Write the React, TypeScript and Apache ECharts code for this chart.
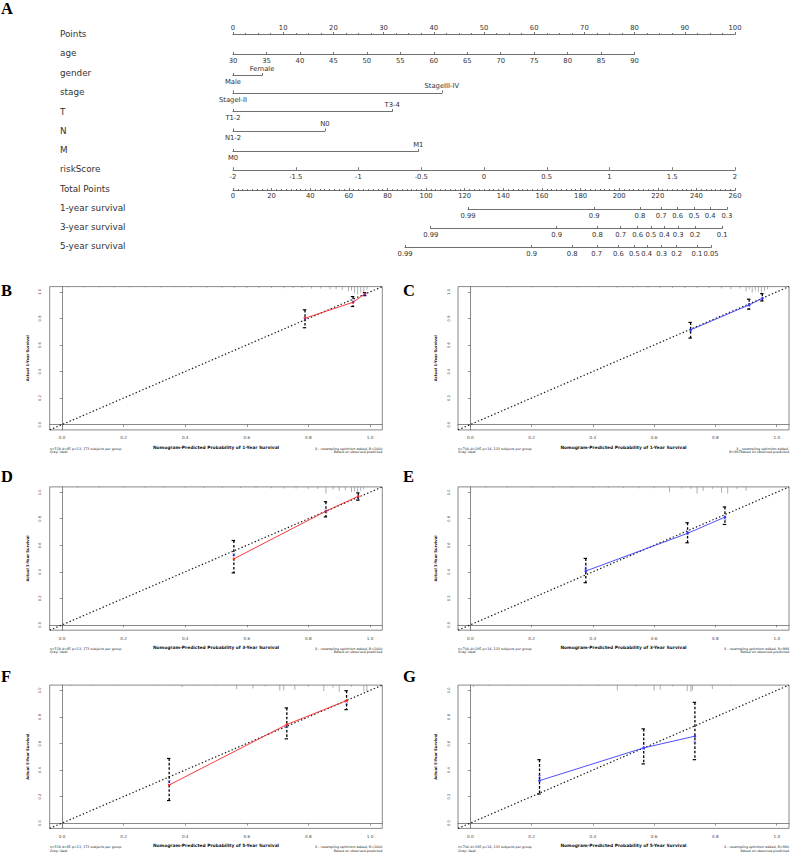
import React, { useEffect, useRef } from "react";
import * as echarts from "echarts";

const FONT = "DejaVu Sans";
const SERIF = "Liberation Serif";
const NOMO_LINE = "#4d4d4d";
const NOMO_TEXT = "#333333";

// ---------------- Panel A: nomogram ----------------
const rowNames = [
  "Points", "age", "gender", "stage", "T", "N", "M", "riskScore",
  "Total Points", "1-year survival", "3-year survival", "5-year survival",
];
const pointsRange = [0, 100];
const pointsInterval = 10;
const ageRange = [30, 90];
const ageInterval = 5;
const agePoints = [0, 80];
const genderLevels = ["Male", "Female"];
const genderPoints = [0, 5.8];
const stageLevels = ["StageI-II", "StageIII-IV"];
const stagePoints = [0, 41.6];
const tLevels = ["T1-2", "T3-4"];
const tPoints = [0, 31.7];
const nLevels = ["N1-2", "N0"];
const nPoints = [0, 18.3];
const mLevels = ["M0", "M1"];
const mPoints = [0, 36.9];
const riskRange = [-2, 2];
const riskInterval = 0.5;
const riskPoints = [0, 100];
const totalRange = [0, 260];
const totalInterval = 20;
const surv1Labels = ["0.99", "0.9", "0.8", "0.7", "0.6", "0.5", "0.4", "0.3"];
const surv1Total = [121.7, 187.1, 210.8, 221.7, 230.3, 238.9, 247.1, 255.8];
const surv3Labels = ["0.99", "0.9", "0.8", "0.7", "0.6", "0.5", "0.4", "0.3", "0.2", "0.1"];
const surv3Total = [102.4, 167.6, 188.7, 200.8, 209.6, 216.5, 223.4, 230.6, 239.3, 253.4];
const surv5Labels = ["0.99", "0.9", "0.8", "0.7", "0.6", "0.5", "0.4", "0.3", "0.2", "0.1", "0.05"];
const surv5Total = [89.1, 154.7, 175.7, 188.4, 199.6, 207.9, 214.3, 222.0, 229.8, 240.3, 247.6];

// ---------------- Panels B-G: calibration ----------------
const calLimits = [-0.04, 1.04];
const calTicks = [0, 0.2, 0.4, 0.6, 0.8, 1.0];

// B: 1-year, training
const bPredicted = [0.789, 0.945, 0.984];
const bObserved = [0.802, 0.922, 0.985];
const bCorrected = [0.795, 0.928, 0.98];
const bLower = [0.73, 0.89, 0.972];
const bUpper = [0.865, 0.965, 0.995];
const bRugX = [0.02, 0.07, 0.12, 0.17, 0.22, 0.27, 0.32, 0.37, 0.42, 0.47, 0.52, 0.56, 0.6, 0.64, 0.68, 0.72, 0.75, 0.78, 0.81, 0.84, 0.87, 0.89, 0.91, 0.93, 0.94, 0.95, 0.96, 0.97, 0.98, 0.99];
const bRugH = [0.006, 0.006, 0.006, 0.006, 0.006, 0.006, 0.006, 0.006, 0.006, 0.008, 0.008, 0.008, 0.01, 0.01, 0.01, 0.012, 0.012, 0.012, 0.015, 0.015, 0.02, 0.02, 0.025, 0.035, 0.03, 0.05, 0.06, 0.045, 0.04, 0.025];

// C: 1-year, validation
const cPredicted = [0.719, 0.91, 0.953];
const cObserved = [0.714, 0.902, 0.952];
const cCorrected = [0.71, 0.9, 0.945];
const cLower = [0.652, 0.87, 0.932];
const cUpper = [0.77, 0.945, 0.987];
const cRugX = [0.12, 0.2, 0.28, 0.35, 0.42, 0.48, 0.53, 0.58, 0.62, 0.66, 0.7, 0.74, 0.78, 0.82, 0.85, 0.88, 0.9, 0.91, 0.92, 0.93, 0.94, 0.95, 0.96, 0.97];
const cRugH = [0.006, 0.006, 0.006, 0.006, 0.006, 0.008, 0.008, 0.008, 0.01, 0.01, 0.012, 0.012, 0.012, 0.015, 0.02, 0.015, 0.035, 0.02, 0.045, 0.03, 0.04, 0.045, 0.035, 0.02];

// D: 3-year, training
const dPredicted = [0.558, 0.857, 0.962];
const dObserved = [0.498, 0.857, 0.97];
const dCorrected = [0.53, 0.86, 0.95];
const dLower = [0.392, 0.814, 0.94];
const dUpper = [0.636, 0.928, 0.995];
const dRugX = [0.05, 0.12, 0.2, 0.27, 0.33, 0.4, 0.46, 0.52, 0.58, 0.63, 0.68, 0.72, 0.76, 0.8, 0.83, 0.857, 0.88, 0.9, 0.92, 0.94, 0.95, 0.96, 0.97, 0.98];
const dRugH = [0.006, 0.006, 0.006, 0.006, 0.006, 0.006, 0.008, 0.008, 0.008, 0.01, 0.01, 0.012, 0.012, 0.015, 0.015, 0.05, 0.02, 0.03, 0.025, 0.04, 0.035, 0.045, 0.03, 0.02];

// E: 3-year, validation
const ePredicted = [0.377, 0.709, 0.831];
const eObserved = [0.406, 0.69, 0.812];
const eCorrected = [0.43, 0.7, 0.8];
const eLower = [0.318, 0.619, 0.757];
const eUpper = [0.501, 0.77, 0.889];
const eRugX = [0.05, 0.12, 0.2, 0.27, 0.33, 0.4, 0.45, 0.5, 0.55, 0.6, 0.65, 0.69, 0.72, 0.74, 0.76, 0.79, 0.82, 0.84, 0.87, 0.9];
const eRugH = [0.006, 0.006, 0.006, 0.006, 0.006, 0.008, 0.008, 0.008, 0.01, 0.01, 0.04, 0.012, 0.015, 0.05, 0.03, 0.015, 0.045, 0.05, 0.015, 0.03];

// F: 5-year, training
const fPredicted = [0.348, 0.73, 0.924];
const fObserved = [0.287, 0.743, 0.923];
const fCorrected = [0.31, 0.73, 0.9];
const fLower = [0.17, 0.635, 0.855];
const fUpper = [0.487, 0.868, 0.998];
const fRugX = [0.03, 0.1, 0.17, 0.24, 0.3, 0.35, 0.39, 0.44, 0.5, 0.567, 0.62, 0.66, 0.707, 0.72, 0.756, 0.8, 0.85, 0.88, 0.9, 0.94, 0.98, 0.99];
const fRugH = [0.006, 0.006, 0.006, 0.006, 0.006, 0.006, 0.015, 0.006, 0.008, 0.03, 0.025, 0.01, 0.04, 0.04, 0.035, 0.012, 0.045, 0.02, 0.05, 0.012, 0.045, 0.05];

// G: 5-year, validation
const gPredicted = [0.226, 0.566, 0.733];
const gObserved = [0.32, 0.567, 0.655];
const gCorrected = [0.35, 0.56, 0.61];
const gLower = [0.219, 0.446, 0.478];
const gUpper = [0.478, 0.71, 0.91];
const gRugX = [0.01, 0.06, 0.12, 0.18, 0.24, 0.3, 0.36, 0.42, 0.48, 0.54, 0.6, 0.62, 0.66, 0.708, 0.72, 0.725, 0.79, 0.85];
const gRugH = [0.015, 0.006, 0.006, 0.006, 0.006, 0.006, 0.006, 0.006, 0.04, 0.01, 0.04, 0.035, 0.01, 0.045, 0.05, 0.04, 0.03, 0.008];

const trainLeftNote = ["n=519 d=85 p=13, 173 subjects per group", "Gray: ideal"];
const testLeftNote = ["n=700 d=195 p=14, 233 subjects per group", "Gray: ideal"];

const RED = "#ff2424";
const BLUE = "#3b3bff";

const panels = [
  { letter: "B", col: 0, row: 0, years: 1, color: RED, pred: bPredicted, obs: bObserved, corr: bCorrected, lo: bLower, hi: bUpper, rugX: bRugX, rugH: bRugH, left: trainLeftNote, right: ["X - resampling optimism added, B=1000", "Based on observed-predicted"] },
  { letter: "C", col: 1, row: 0, years: 1, color: BLUE, pred: cPredicted, obs: cObserved, corr: cCorrected, lo: cLower, hi: cUpper, rugX: cRugX, rugH: cRugH, left: testLeftNote, right: ["X - resampling optimism added,", "B=997Based on observed-predicted"] },
  { letter: "D", col: 0, row: 1, years: 3, color: RED, pred: dPredicted, obs: dObserved, corr: dCorrected, lo: dLower, hi: dUpper, rugX: dRugX, rugH: dRugH, left: trainLeftNote, right: ["X - resampling optimism added, B=1000", "Based on observed-predicted"] },
  { letter: "E", col: 1, row: 1, years: 3, color: BLUE, pred: ePredicted, obs: eObserved, corr: eCorrected, lo: eLower, hi: eUpper, rugX: eRugX, rugH: eRugH, left: testLeftNote, right: ["X - resampling optimism added, B=998", "Based on observed-predicted"] },
  { letter: "F", col: 0, row: 2, years: 5, color: RED, pred: fPredicted, obs: fObserved, corr: fCorrected, lo: fLower, hi: fUpper, rugX: fRugX, rugH: fRugH, left: trainLeftNote, right: ["X - resampling optimism added, B=1000", "Based on observed-predicted"] },
  { letter: "G", col: 1, row: 2, years: 5, color: BLUE, pred: gPredicted, obs: gObserved, corr: gCorrected, lo: gLower, hi: gUpper, rugX: gRugX, rugH: gRugH, left: testLeftNote, right: ["X - resampling optimism added, B=996", "Based on observed-predicted"] },
];

// ---------------- Layout ----------------
const NOMO_X0 = 233;
const NOMO_W = 502;
const ROW_LINE_Y = [34, 54, 75, 92.3, 111, 130.5, 151, 169.3, 190, 209, 228, 247];
const ROW_NAME_Y = [34, 53, 72.7, 92, 111.7, 131, 150, 169.3, 188.7, 207.7, 226.7, 246];
const NAME_X = 60;
const COLS = [
  { left: 49.7, width: 332.6, letterX: 1 },
  { left: 458, width: 331, letterX: 403 },
];
const ROWS = [
  { top: 286.6, letterY: 290 },
  { top: 486.9, letterY: 476.5 },
  { top: 685.1, letterY: 676.5 },
];
const PANEL_H = 143.3;

const X_SYMBOL = "path://M0,1 L1,0 L5,4 L9,0 L10,1 L6,5 L10,9 L9,10 L5,6 L1,10 L0,9 L4,5 Z";

function ptsToPx(p: number) {
  return NOMO_X0 + (p / pointsRange[1]) * NOMO_W;
}
function totalToPts(t: number) {
  return (t / totalRange[1]) * pointsRange[1];
}
function nearestIndex(arr: number[], v: number) {
  let best = 0;
  for (let i = 1; i < arr.length; i++) {
    if (Math.abs(arr[i] - v) < Math.abs(arr[best] - v)) best = i;
  }
  return best;
}
function fmtNum(v: number) {
  return String(Math.round(v * 100) / 100);
}

function buildOption() {
  const grid: any[] = [];
  const xAxis: any[] = [];
  const yAxis: any[] = [];
  const series: any[] = [];
  const graphic: any[] = [];

  const lineStyle = { color: NOMO_LINE, width: 0.8 };
  const labelBelow = { fontSize: 6.8, color: NOMO_TEXT, fontFamily: FONT, margin: 3.2 };
  const labelAbove = { fontSize: 6.8, color: NOMO_TEXT, fontFamily: FONT, margin: 2.4 };

  const addRowGrid = (row: number, p0: number, p1: number) => {
    const y = ROW_LINE_Y[row];
    const gi = grid.length;
    grid.push({
      left: ptsToPx(p0), width: ptsToPx(p1) - ptsToPx(p0), top: y - 0.5, height: 1,
      containLabel: false, outerBoundsMode: "none",
    });
    yAxis.push({ gridIndex: gi, type: "value", show: false, min: 0, max: 1 });
    return gi;
  };

  rowNames.forEach((name, i) => {
    graphic.push({
      type: "text", x: NAME_X, y: ROW_NAME_Y[i],
      style: { text: name, fontSize: 8.8, fontFamily: FONT, fill: NOMO_TEXT, align: "left", verticalAlign: "middle" },
    });
  });

  // Points
  let gi = addRowGrid(0, pointsRange[0], pointsRange[1]);
  xAxis.push({
    gridIndex: gi, type: "value", position: "top", min: pointsRange[0], max: pointsRange[1], interval: pointsInterval,
    axisLine: { show: true, lineStyle },
    axisTick: { show: true, inside: false, length: 2.5, lineStyle },
    minorTick: { show: true, splitNumber: 4, length: 1.5, lineStyle },
    axisLabel: { ...labelAbove },
    splitLine: { show: false }, minorSplitLine: { show: false },
  });

  // age
  gi = addRowGrid(1, agePoints[0], agePoints[1]);
  xAxis.push({
    gridIndex: gi, type: "value", position: "bottom", min: ageRange[0], max: ageRange[1], interval: ageInterval,
    axisLine: { show: true, lineStyle },
    axisTick: { show: true, inside: true, length: 2.5, lineStyle },
    axisLabel: { ...labelBelow },
    splitLine: { show: false },
  });

  const addFactor = (row: number, levels: string[], pts: number[]) => {
    const g = addRowGrid(row, pts[0], pts[1]);
    xAxis.push({
      gridIndex: g, type: "value", position: "bottom", min: pts[0], max: pts[1],
      axisLine: { show: true, lineStyle },
      axisTick: { show: true, inside: true, length: 2.5, lineStyle, customValues: pts },
      axisLabel: { ...labelBelow, customValues: [pts[0]], formatter: () => levels[0] },
      splitLine: { show: false },
    });
    xAxis.push({
      gridIndex: g, type: "value", position: "top", min: pts[0], max: pts[1],
      axisLine: { show: false }, axisTick: { show: false },
      axisLabel: { ...labelAbove, customValues: [pts[1]], formatter: () => levels[1] },
      splitLine: { show: false },
    });
  };
  addFactor(2, genderLevels, genderPoints);
  addFactor(3, stageLevels, stagePoints);
  addFactor(4, tLevels, tPoints);
  addFactor(5, nLevels, nPoints);
  addFactor(6, mLevels, mPoints);

  // riskScore
  gi = addRowGrid(7, riskPoints[0], riskPoints[1]);
  xAxis.push({
    gridIndex: gi, type: "value", position: "bottom", min: riskRange[0], max: riskRange[1], interval: riskInterval,
    axisLine: { show: true, lineStyle },
    axisTick: { show: true, inside: true, length: 2.5, lineStyle },
    axisLabel: { ...labelBelow, formatter: (v: number) => fmtNum(v) },
    splitLine: { show: false },
  });

  // Total Points
  gi = addRowGrid(8, 0, totalToPts(totalRange[1]));
  xAxis.push({
    gridIndex: gi, type: "value", position: "bottom", min: totalRange[0], max: totalRange[1], interval: totalInterval,
    axisLine: { show: true, lineStyle },
    axisTick: { show: true, inside: true, length: 2.5, lineStyle },
    minorTick: { show: true, splitNumber: 8, length: 1.5, lineStyle },
    axisLabel: { ...labelBelow, margin: 2.4 },
    splitLine: { show: false }, minorSplitLine: { show: false },
  });

  const addSurv = (row: number, labels: string[], totals: number[]) => {
    const first = totals[0];
    const last = totals[totals.length - 1];
    const g = addRowGrid(row, totalToPts(first), totalToPts(last));
    xAxis.push({
      gridIndex: g, type: "value", position: "bottom", min: first, max: last,
      axisLine: { show: true, lineStyle },
      axisTick: { show: true, inside: true, length: 2.5, lineStyle, customValues: totals },
      axisLabel: { ...labelBelow, margin: 2.8, customValues: totals, formatter: (v: number) => labels[nearestIndex(totals, v)] },
      splitLine: { show: false },
    });
  };
  addSurv(9, surv1Labels, surv1Total);
  addSurv(10, surv3Labels, surv3Total);
  addSurv(11, surv5Labels, surv5Total);

  graphic.push({
    type: "text", x: 1, y: 8.7,
    style: { text: "A", fontSize: 16.5, fontWeight: "bold", fontFamily: SERIF, fill: "#000", align: "left", verticalAlign: "middle" },
  });

  // ---------------- calibration panels ----------------
  const frameColor = "#6b6b6b";
  const tickText = { fontSize: 4.2, color: "#444", fontFamily: FONT };
  panels.forEach((p) => {
    const col = COLS[p.col];
    const row = ROWS[p.row];
    const g = grid.length;
    grid.push({
      left: col.left, top: row.top, width: col.width, height: PANEL_H,
      show: true, borderColor: frameColor, borderWidth: 0.8, backgroundColor: "transparent",
      containLabel: false, outerBoundsMode: "none",
    });
    const xi = xAxis.length;
    const yi = yAxis.length;
    xAxis.push({
      gridIndex: g, type: "value", position: "bottom", min: calLimits[0], max: calLimits[1],
      name: `Nomogram-Predicted Probability of ${p.years}-Year Survival`,
      nameLocation: "middle", nameGap: 15.4,
      nameTextStyle: { fontSize: 4.4, fontWeight: "bold", fontFamily: FONT, color: "#111" },
      axisLine: { show: true, lineStyle: { color: frameColor, width: 0.8 } },
      axisTick: { show: true, length: 2.5, customValues: calTicks, lineStyle: { color: frameColor, width: 0.7 } },
      axisLabel: { ...tickText, customValues: calTicks, margin: 6, formatter: (v: number) => v.toFixed(1) },
      splitLine: { show: false },
    });
    yAxis.push({
      gridIndex: g, type: "value", position: "left", min: calLimits[0], max: calLimits[1],
      name: `Actual ${p.years}-Year Survival`,
      nameLocation: "middle", nameGap: 19.6, nameRotate: 90,
      nameTextStyle: { fontSize: 3.75, fontWeight: "bold", fontFamily: FONT, color: "#111" },
      axisLine: { show: true, lineStyle: { color: frameColor, width: 0.8 } },
      axisTick: { show: true, length: 2.5, customValues: calTicks, lineStyle: { color: frameColor, width: 0.7 } },
      axisLabel: { ...tickText, fontSize: 3.7, rotate: 90, customValues: calTicks, margin: 7.5, formatter: (v: number) => v.toFixed(1) },
      splitLine: { show: false },
    });

    // ideal line
    series.push({
      type: "line", xAxisIndex: xi, yAxisIndex: yi, silent: true, symbol: "none",
      data: [[calLimits[0], calLimits[0]], [calLimits[1], calLimits[1]]],
      lineStyle: { color: "#1a1a1a", width: 1.2, type: [1.4, 2.2] },
      z: 2,
    });
    // error bars
    series.push({
      type: "custom", xAxisIndex: xi, yAxisIndex: yi, silent: true,
      data: p.pred.map((x: number, i: number) => [x, p.lo[i], p.hi[i]]),
      encode: { x: 0, y: 1 },
      renderItem: (params: any, api: any) => {
        const x = api.value(0);
        const a = api.coord([x, api.value(2)]);
        const b = api.coord([x, api.value(1)]);
        const st = { stroke: "#000", lineWidth: 1.2 };
        return {
          type: "group",
          children: [
            { type: "line", shape: { x1: a[0], y1: a[1], x2: b[0], y2: b[1] }, style: { ...st, lineWidth: 1.3, lineDash: [2.6, 1.8] } },
            { type: "line", shape: { x1: a[0] - 2.2, y1: a[1], x2: a[0] + 1.2, y2: a[1] }, style: st },
            { type: "line", shape: { x1: b[0] - 2.2, y1: b[1], x2: b[0] + 1.2, y2: b[1] }, style: st },
          ],
        };
      },
      z: 3,
    });
    // observed line
    series.push({
      type: "line", xAxisIndex: xi, yAxisIndex: yi, silent: true,
      data: p.pred.map((x: number, i: number) => [x, p.obs[i]]),
      symbol: "circle", symbolSize: 2.6, showSymbol: true,
      itemStyle: { color: p.color },
      lineStyle: { color: p.color, width: 0.9 },
      z: 4,
    });
    // bias-corrected (X)
    series.push({
      type: "scatter", xAxisIndex: xi, yAxisIndex: yi, silent: true,
      data: p.pred.map((x: number, i: number) => [x, p.corr[i]]),
      symbol: X_SYMBOL, symbolSize: 3.2,
      itemStyle: { color: BLUE },
      z: 5,
    });
    // rug of predicted values
    series.push({
      type: "custom", xAxisIndex: xi, yAxisIndex: yi, silent: true,
      data: p.rugX.map((x: number, i: number) => [x, p.rugH[i]]),
      encode: { x: 0, y: 1 },
      renderItem: (params: any, api: any) => {
        const x = api.value(0);
        const h = api.value(1);
        const a = api.coord([x, calLimits[1]]);
        const b = api.coord([x, calLimits[1] - h]);
        return { type: "line", shape: { x1: a[0], y1: a[1], x2: b[0], y2: b[1] }, style: { stroke: "#8c8c8c", lineWidth: 0.7 } };
      },
      z: 3,
    });

    const bottom = row.top + PANEL_H;
    const noteStyle = { fontSize: 3.3, fontFamily: FONT, fill: "#222", verticalAlign: "middle" };
    p.left.forEach((t: string, k: number) => {
      graphic.push({ type: "text", x: col.left, y: bottom + 18.8 + k * 3.4, style: { ...noteStyle, text: t, align: "left" } });
    });
    p.right.forEach((t: string, k: number) => {
      graphic.push({ type: "text", x: col.left + col.width, y: bottom + 18.8 + k * 3.4, style: { ...noteStyle, text: t, align: "right" } });
    });
    graphic.push({
      type: "text", x: col.letterX, y: row.letterY,
      style: { text: p.letter, fontSize: 16.5, fontWeight: "bold", fontFamily: SERIF, fill: "#000", align: "left", verticalAlign: "middle" },
    });
  });

  return {
    animation: false,
    backgroundColor: "#ffffff",
    textStyle: { fontFamily: FONT },
    grid, xAxis, yAxis, series, graphic,
  };
}

export default function App() {
  const ref = useRef<HTMLDivElement>(null);
  useEffect(() => {
    if (!ref.current) return;
    const chart = echarts.init(ref.current, null, { renderer: "svg" });
    chart.setOption(buildOption() as any);
    return () => chart.dispose();
  }, []);
  return (
    <div
      ref={ref}
      style={{ position: "absolute", left: 0, top: 0, width: 792, height: 855, background: "#fff" }}
    />
  );
}
